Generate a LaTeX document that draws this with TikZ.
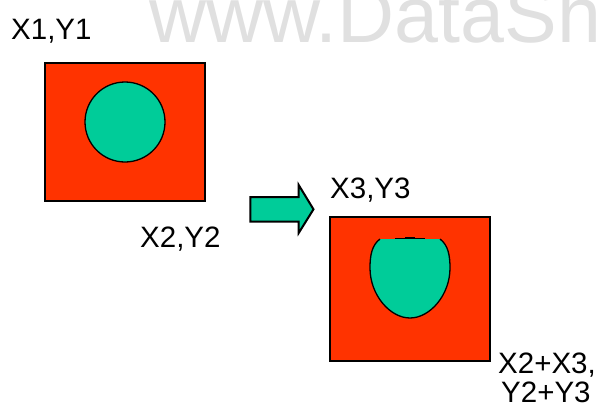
\documentclass[tikz,border=0pt]{standalone}
\usepackage{fontspec}
\setmainfont{Liberation Sans}
\definecolor{boxred}{HTML}{FF3300}
\definecolor{blobgreen}{HTML}{00CC99}
\definecolor{wmgray}{HTML}{E0E0E0}
\begin{document}
\begin{tikzpicture}[x=1pt,y=-1pt,
  redbox/.style={fill=boxred,draw=black,line width=2pt},
  blob/.style={fill=blobgreen,draw=black,line width=1.3pt},
  lbl/.style={anchor=base west,inner sep=0pt,font=\fontsize{29.5}{34}\selectfont},
  wm/.style={anchor=base west,inner sep=0pt,text=wmgray,font=\fontsize{79}{90}\selectfont}]
\useasboundingbox (0,0) rectangle (608,418);
\clip (0,0) rectangle (608,418);
% watermark (cut off at the edges, as in the reference)
\node[wm] (watermark) at (149,42) {www.DataSh};
% first frame
\draw[redbox] (45,63) rectangle (205,200.5);
\draw[blob] (125,122) circle (40);
% arrow
\draw[fill=blobgreen,draw=black,line width=2pt,line join=miter]
  (250.3,197) -- (298.7,197) -- (298.7,185) -- (313.5,209.3) -- (298.7,233)
  -- (298.7,221.7) -- (250.3,221.7) -- cycle;
% second frame
\draw[redbox] (330,217) rectangle (490,361);
\fill[blobgreen] (380,239) .. controls (372,245) and (370,255) .. (370,268)
  .. controls (370,295) and (390,318) .. (410,318)
  .. controls (430,318) and (450,295) .. (450,268)
  .. controls (450,255) and (448,245) .. (440,239) -- cycle;
\draw[black,line width=1.3pt] (380,239) .. controls (372,245) and (370,255) .. (370,268)
  .. controls (370,295) and (390,318) .. (410,318)
  .. controls (430,318) and (450,295) .. (450,268)
  .. controls (450,255) and (448,245) .. (440,239);
\draw[black,line width=1.2pt] (395,238.6) -- (425,238.6);
\draw[black,line width=1.2pt] (405,237.2) -- (415,237.2);
% labels
\node[lbl] (lblone) at (11,39) {X1,Y1};
\node[lbl] (lbltwo) at (140,247) {X2,Y2};
\node[lbl] (lblthree) at (330,198) {X3,Y3};
\node[lbl] (lblsumx) at (498,373) {X2+X3,};
\node[lbl] (lblsumy) at (501,402) {Y2+Y3};
\end{tikzpicture}
\end{document}
